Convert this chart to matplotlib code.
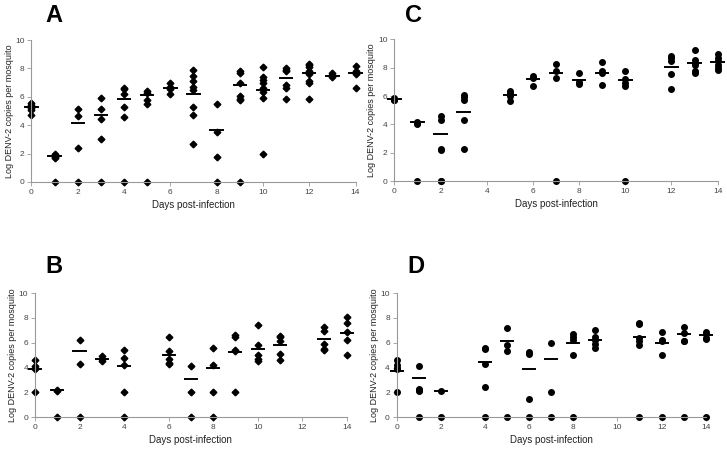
import matplotlib
matplotlib.use("Agg")
import matplotlib.pyplot as plt

plt.rcParams['font.family'] = ['Liberation Sans', 'DejaVu Sans']

# panel A (diamonds)
a_days = [0, 1, 2, 3, 4, 5, 6, 7, 8, 9, 10, 11, 12, 13, 14]
a_vals = [
    [5.55, 5.4, 5.3, 5.2, 5.1, 4.7],
    [1.95, 1.85, 1.75, 1.7, 0],
    [5.15, 4.65, 2.4, 0],
    [5.9, 5.15, 4.45, 3.0, 0],
    [6.65, 6.55, 6.2, 5.3, 4.6, 0],
    [6.4, 6.3, 5.8, 5.5, 0],
    [6.95, 6.7, 6.55, 6.2],
    [7.9, 7.45, 7.15, 6.7, 6.5, 5.25, 4.75, 2.7],
    [5.5, 3.5, 1.75, 0],
    [7.8, 7.7, 7.0, 6.05, 5.85, 5.75, 0],
    [8.1, 7.4, 7.2, 7.0, 6.6, 6.35, 5.95, 1.95],
    [8.0, 7.9, 7.8, 6.8, 6.65, 5.85],
    [8.35, 8.25, 8.1, 7.85, 7.6, 7.15, 6.95, 5.85],
    [7.7, 7.55, 7.4],
    [8.2, 7.85, 7.6, 6.6],
]
a_med = [5.28, 1.85, 4.15, 4.72, 5.82, 6.15, 6.65, 6.2, 3.65, 6.8, 6.5, 7.35, 7.65, 7.5, 7.7]

# panel B (diamonds)
b_days = [0, 1, 2, 3, 4, 6, 7, 8, 9, 10, 11, 13, 14]
b_vals = [
    [4.6, 4.1, 4.0, 3.9, 2.0],
    [2.2, 2.1, 0],
    [6.2, 4.3, 0],
    [4.9, 4.7, 4.5],
    [5.4, 4.8, 4.2, 2.0, 0],
    [6.5, 5.3, 4.7, 4.4, 4.25],
    [4.1, 2.0, 0],
    [5.6, 4.2, 2.0, 0],
    [6.65, 6.45, 5.4, 5.3, 2.0],
    [7.4, 5.85, 5.0, 4.7, 4.5],
    [6.55, 6.45, 6.1, 5.1, 4.65],
    [7.3, 6.95, 5.9, 5.5, 5.45],
    [8.1, 7.55, 6.9, 6.2, 5.0],
]
b_med = [3.85, 2.2, 5.3, 4.7, 4.15, 5.05, 3.1, 4.0, 5.25, 5.5, 5.85, 6.3, 6.8]

# panel C (circles)
c_days = [0, 1, 2, 3, 5, 6, 7, 8, 9, 10, 12, 13, 14]
c_vals = [
    [5.85, 5.75, 5.7],
    [4.2, 4.1, 4.0, 0],
    [4.6, 4.3, 2.25, 2.2, 0, 0],
    [6.1, 5.95, 5.75, 4.35, 2.25],
    [6.35, 6.2, 6.0, 5.65],
    [7.45, 7.25, 6.7],
    [8.25, 7.75, 7.3, 0],
    [7.65, 7.0, 6.85],
    [8.4, 7.8, 7.6, 6.8],
    [7.75, 7.2, 6.95, 6.7, 0],
    [8.85, 8.7, 8.5, 7.55, 6.5],
    [9.25, 8.55, 8.35, 8.2, 7.8, 7.6],
    [8.95, 8.7, 8.5, 8.2, 8.0, 7.85],
]
c_med = [5.8, 4.2, 3.35, 4.9, 6.1, 7.2, 7.65, 7.1, 7.65, 7.15, 8.05, 8.3, 8.4]

# panel D (circles)
d_days = [0, 1, 2, 4, 5, 6, 7, 8, 9, 11, 12, 13, 14]
d_vals = [
    [4.6, 4.2, 4.0, 3.9, 2.0],
    [4.15, 2.3, 2.2, 2.1, 0],
    [2.15, 0],
    [5.6, 5.5, 4.3, 2.4, 0],
    [7.2, 5.8, 5.35, 0],
    [5.25, 5.1, 1.45, 0],
    [5.95, 2.0, 0],
    [6.7, 6.5, 6.2, 5.0, 0],
    [7.05, 6.5, 6.2, 5.9, 5.55],
    [7.55, 7.5, 6.4, 6.1, 5.8, 0],
    [6.9, 6.2, 6.1, 5.0, 0],
    [7.3, 6.8, 6.15, 6.1, 0],
    [6.85, 6.7, 6.35, 6.3, 0],
]
d_med = [3.75, 3.15, 2.15, 4.45, 6.15, 3.9, 4.7, 6.0, 6.25, 6.45, 6.0, 6.7, 6.6]

panels = [
    ("A", [0.0433, 0.5947, 0.4457, 0.316], a_days, a_vals, a_med, "D", (0.062, 0.951)),
    ("C", [0.5424, 0.5962, 0.4448, 0.3163], c_days, c_vals, c_med, "o", (0.557, 0.951)),
    ("B", [0.0481, 0.0706, 0.4288, 0.2768], b_days, b_vals, b_med, "D", (0.062, 0.392)),
    ("D", [0.5457, 0.0706, 0.425, 0.2768], d_days, d_vals, d_med, "o", (0.560, 0.392)),
]

fig = plt.figure(figsize=(7.27, 4.49), dpi=100)

for letter, rect, days, vals, med, mk, lpos in panels:
    ax = fig.add_axes(rect)
    for d, v in zip(days, vals):
        ax.plot([d] * len(v), v, linestyle='none', marker=mk,
                markersize=3.4 if mk == "D" else 4, color='black', clip_on=False)
    for d, m in zip(days, med):
        ax.plot([d - 0.27, d + 0.27], [m, m], color='black', lw=1.4, clip_on=False)
    ax.set_xlim(0, 14)
    ax.set_ylim(0, 10)
    ax.set_xticks(range(0, 15, 2))
    ax.set_yticks(range(0, 11, 2))
    for s in ['top', 'right']:
        ax.spines[s].set_visible(False)
    for s in ['left', 'bottom']:
        ax.spines[s].set_color('#999999')
        ax.spines[s].set_linewidth(0.8)
    ax.tick_params(colors='#999999', labelcolor='#444444', labelsize=6,
                   length=3, width=0.6, direction='out', pad=2)
    ax.set_xlabel("Days post-infection", fontsize=7, color='#222222', labelpad=3)
    ax.set_ylabel("Log DENV-2 copies per mosquito", fontsize=6.5, color='#222222', labelpad=1)
    fig.text(lpos[0], lpos[1], letter, fontsize=17, fontweight='bold', va='baseline')

fig.savefig("out.png", dpi=100)
